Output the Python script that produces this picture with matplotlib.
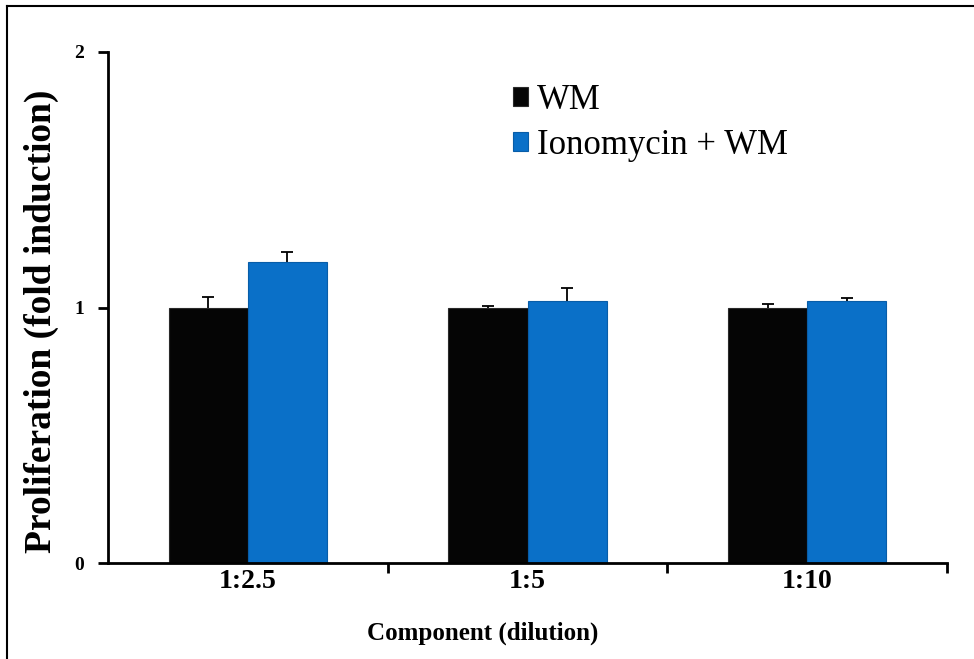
import matplotlib.pyplot as plt
from matplotlib.lines import Line2D
import numpy as np

categories = ['1:2.5', '1:5', '1:10']
wm = [1.0, 1.0, 1.0]
wm_err = [0.04, 0.005, 0.012]
iono = [1.178, 1.025, 1.025]
iono_err = [0.04, 0.05, 0.012]

plt.rcParams['font.family'] = ['Liberation Serif', 'DejaVu Serif']

fig = plt.figure(figsize=(9.74, 6.59), dpi=100)
ax = fig.add_axes([108/974, 1 - 563/659, (947-108)/974, (563-52)/659])

x = np.arange(len(categories))
w = 0.283
ax.bar(x - w/2, wm, w, color='#050505', edgecolor='#2a2a2a', linewidth=0.8,
       label='WM', zorder=2)
ax.bar(x + w/2, iono, w, color='#0a70c8', edgecolor='#085da8', linewidth=0.8,
       label='Ionomycin + WM', zorder=2)
ekw = dict(fmt='none', ecolor='black', capsize=4, elinewidth=1.3, capthick=1.3, zorder=1)
ax.errorbar(x - w/2, wm, yerr=wm_err, **ekw)
ax.errorbar(x + w/2, iono, yerr=iono_err, **ekw)

ax.set_xlim(-0.5, 2.5)
ax.set_ylim(0, 2)
ax.set_yticks([0, 1, 2])
ax.set_yticklabels(['0', '1', '2'], fontsize=14, fontweight='bold')
ax.set_xticks(x)
ax.set_xticklabels(categories, fontsize=20, fontweight='bold')
ax.set_xticks([0.5, 1.5, 2.5], minor=True)
ax.tick_params(axis='x', which='major', length=0, pad=4)
ax.tick_params(axis='x', which='minor', length=7, width=2, direction='out')
ax.tick_params(axis='y', length=7, width=2, direction='out', pad=10)

for s in ['top', 'right']:
    ax.spines[s].set_visible(False)
for s in ['left', 'bottom']:
    ax.spines[s].set_linewidth(2)

ax.set_xlabel('Component (dilution)', fontsize=18, fontweight='bold')
ax.xaxis.set_label_coords(0.447, -0.115)
ax.set_ylabel('Proliferation (fold induction)', fontsize=27, fontweight='bold')
ax.yaxis.set_label_coords(-0.058, 0.472)

ax.legend(loc='upper left', bbox_to_anchor=(0.445, 0.999), frameon=False, fontsize=25,
          handlelength=0.45, handleheight=0.45, handletextpad=0.25, labelspacing=0.35)

# figure border (left and top only visible)
fig.add_artist(Line2D([7/974, 7/974], [0, 1 - 6/659], color='black', linewidth=1.5,
                      transform=fig.transFigure))
fig.add_artist(Line2D([7/974, 1], [1 - 6/659, 1 - 6/659], color='black', linewidth=1.5,
                      transform=fig.transFigure))

fig.savefig('out.png', dpi=100)
